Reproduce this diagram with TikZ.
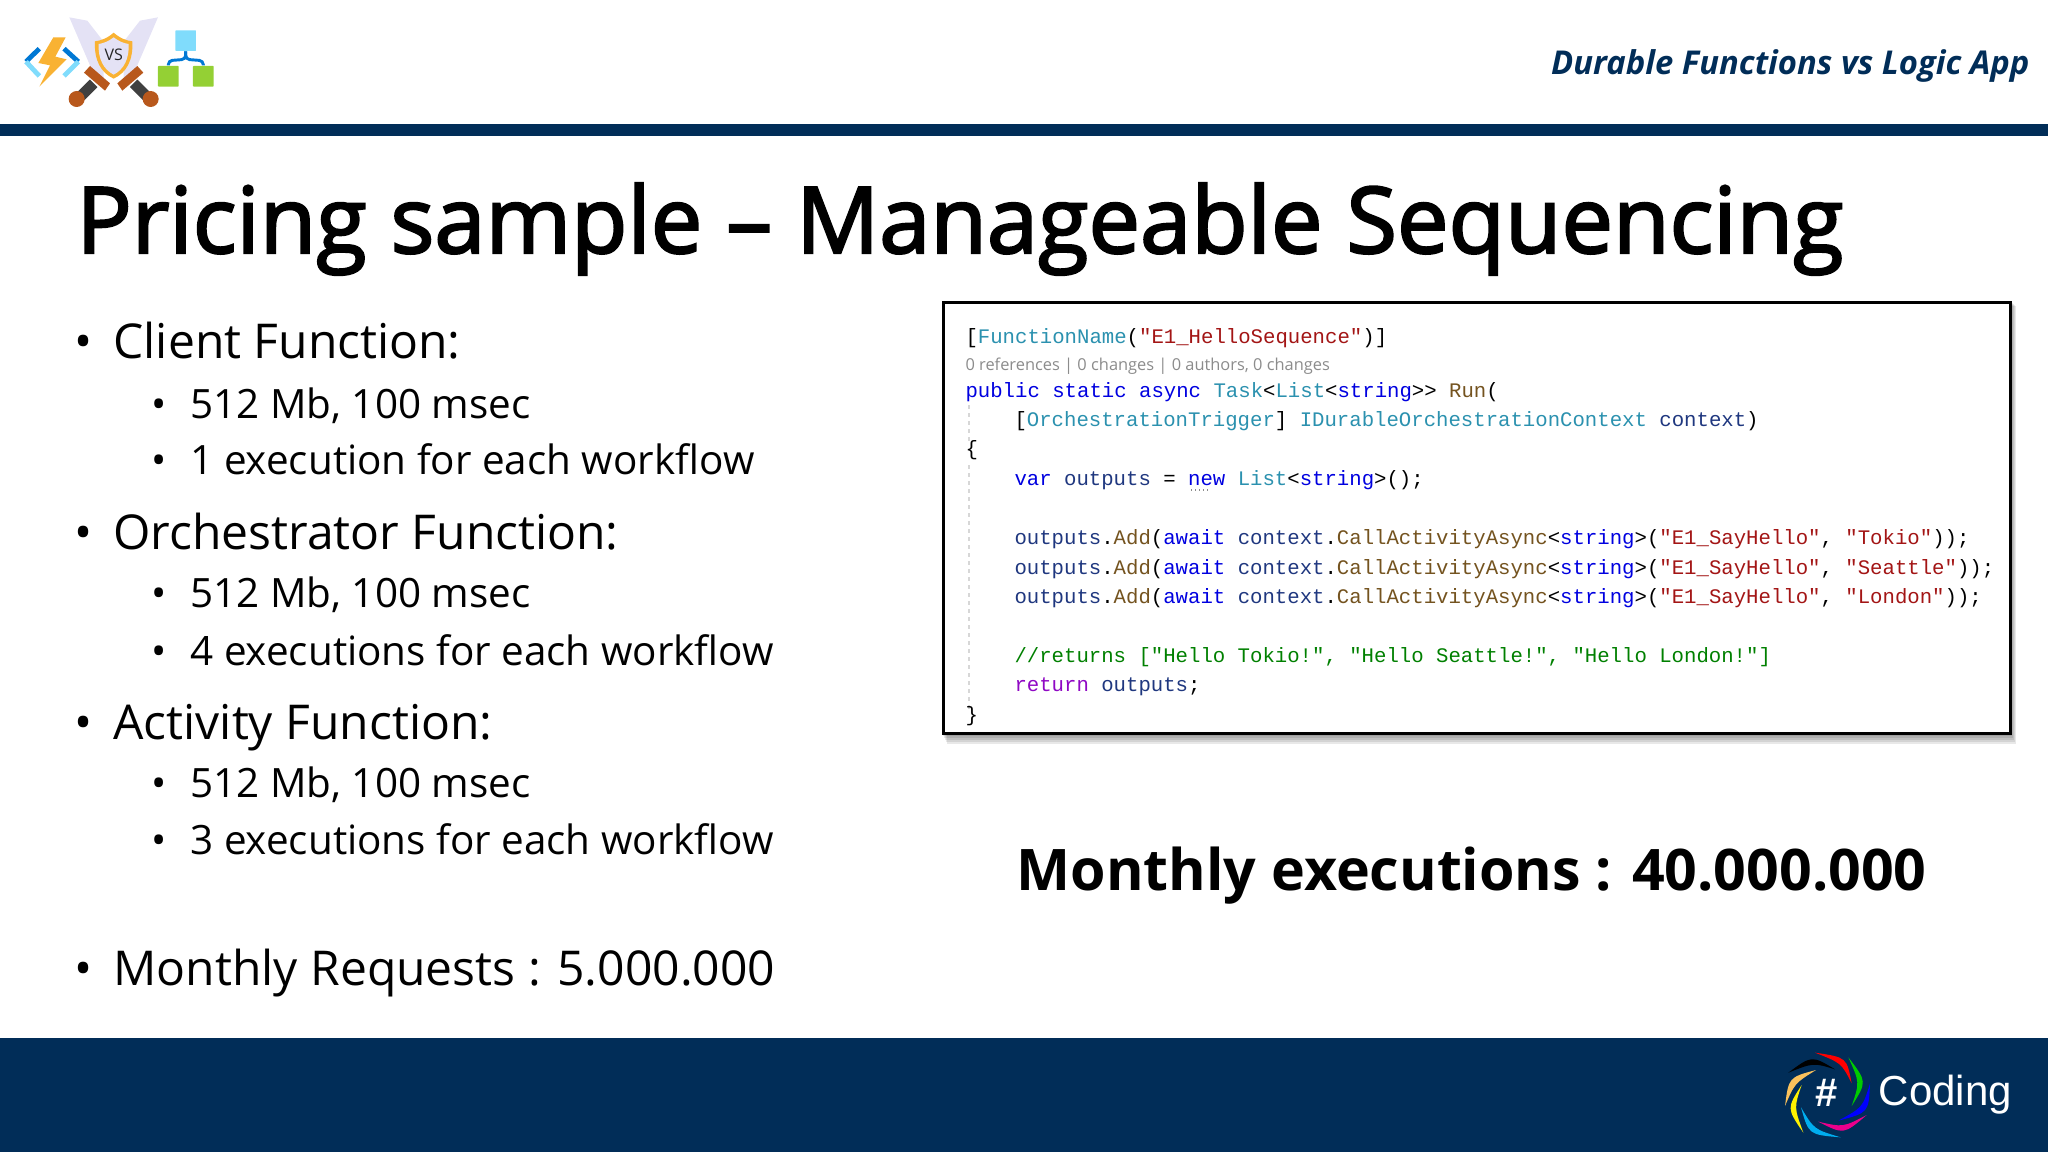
\documentclass[tikz,border=0pt]{standalone}
\usepackage{fontspec}
\setmainfont{Open Sans}
\setmonofont{Liberation Mono}
\newfontfamily\titlefont[FakeBold=2.4]{Open Sans}
\newfontfamily\logofont{Liberation Sans}

\definecolor{navybar}{RGB}{1,45,88}
\definecolor{kwblue}{RGB}{0,0,224}
\definecolor{typeteal}{RGB}{43,145,175}
\definecolor{strred}{RGB}{163,21,21}
\definecolor{methbrown}{RGB}{116,83,31}
\definecolor{varnavy}{RGB}{31,55,127}
\definecolor{cmtgreen}{RGB}{0,128,0}
\definecolor{ctlpurple}{RGB}{143,8,196}
\definecolor{lensgray}{RGB}{140,140,140}
\definecolor{guidegray}{RGB}{215,215,215}
\definecolor{bladelav}{RGB}{228,226,245}
\definecolor{shieldgold}{RGB}{249,178,51}
\definecolor{hiltbrown}{RGB}{184,88,28}
\definecolor{leafgreen}{RGB}{148,208,52}
\definecolor{rootblue}{RGB}{128,220,252}
\definecolor{linkblue}{RGB}{0,120,212}

\newcommand{\kw}[1]{\textcolor{kwblue}{#1}}
\newcommand{\ty}[1]{\textcolor{typeteal}{#1}}
\newcommand{\st}[1]{\textcolor{strred}{#1}}
\newcommand{\me}[1]{\textcolor{methbrown}{#1}}
\newcommand{\va}[1]{\textcolor{varnavy}{#1}}
\newcommand{\addline}[1]{\va{outputs}.\me{Add}(\kw{await}~\va{context}.\me{CallActivityAsync}<\kw{string}>(\st{"E1\_SayHello"},~\st{"#1"}));}
\newcommand{\swirl}[5]{\fill [#1] (#2) .. controls (#4) .. (#3) .. controls (#5) .. (#2) -- cycle;}

\tikzset{every picture/.style={line width=0.75pt}}
\tikzset{
  txt/.style={anchor=base west,inner sep=0pt},
  titletxt/.style={txt,font=\titlefont\fontsize{69}{78}\selectfont},
  lvlone/.style={txt,font=\fontsize{36}{42}\selectfont},
  lvltwo/.style={txt,font=\fontsize{30.3}{36}\selectfont},
  codeline/.style={txt,font=\ttfamily\fontsize{15.5}{18}\selectfont},
  guide/.style={guidegray,dashed,line width=1pt},
}

\begin{document}
\begin{tikzpicture}[x=0.75pt,y=0.75pt,yscale=-1,xscale=1]
\useasboundingbox (0,0) rectangle (2048,1152);

% Bars
\fill [navybar] (0,124) rectangle (2048,136);
\fill [navybar] (0,1038) rectangle (2048,1152);

% Logo: function icon
\begin{scope}[scale=1/3]
\draw [linkblue,line width=3.6pt] (118,146) -- (78,185);
\draw [rootblue,line width=3.6pt] (78,185) -- (118,228);
\draw [linkblue,line width=3.6pt] (192,146) -- (235,185);
\draw [rootblue,line width=3.6pt] (235,185) -- (192,228);
\fill [shieldgold] (160,112) -- (197,112) -- (166,170) -- (200,178) -- (118,260) -- (150,196) -- (115,189) -- cycle;
% Logo: crossed swords
\foreach \side in {1,-1}{
\begin{scope}[shift={(341,0)},xscale=\side]
\fill [bladelav] (-133,52) -- (-79,62) -- (-30,125) -- (-30,240) -- (-65,210) -- cycle;
\draw [black!75,line width=8pt] (-60,250) -- (-100,290);
\fill [hiltbrown] (-71,198) -- (-11,250) -- (-26,272) -- (-89,218) -- cycle;
\fill [hiltbrown] (-111,297) circle (24);
\end{scope}
}
\fill [shieldgold] (341,98) .. controls (360,115) and (380,122) .. (397,124) .. controls (400,180) and (380,218) .. (341,236) .. controls (302,218) and (282,180) .. (285,124) .. controls (302,122) and (322,115) .. (341,98) -- cycle;
\fill [bladelav] (341,112) .. controls (356,124) and (372,130) .. (386,132) .. controls (388,176) and (372,208) .. (341,224) .. controls (310,208) and (294,176) .. (296,132) .. controls (310,130) and (326,124) .. (341,112) -- cycle;
\node (versus) at (341,165) [inner sep=0pt,text=black!85,font=\fontsize{12}{13}\selectfont] {VS};
% Logo: hierarchy icon
\node (rootbox) at (557,122) [fill=rootblue,minimum size=15.5pt,inner sep=0pt,rounded corners=0.5pt] {};
\node (leafl) at (505,229) [fill=leafgreen,minimum size=15.5pt,inner sep=0pt,rounded corners=0.5pt] {};
\node (leafr) at (610,229) [fill=leafgreen,minimum size=15.5pt,inner sep=0pt,rounded corners=0.5pt] {};
\draw [linkblue,line width=2.2pt,rounded corners=3pt] (rootbox.south) -- (557,178) -- (505,182) -- (leafl.north);
\draw [linkblue,line width=2.2pt,rounded corners=3pt] (rootbox.south) -- (557,178) -- (610,182) -- (leafr.north);
\end{scope}

% Text Node
\node (header) at (2030,75) [anchor=base east,inner sep=0pt,text=navybar,font=\bfseries\itshape\fontsize{24.6}{28}\selectfont] {Durable Functions vs Logic App};
% Text Node
\node (pagetitle) at (76,253) [titletxt] {Pricing sample – Manageable Sequencing};

% Bullets
\foreach \y/\n in {358/a,549/b,739/c,985/d}{
\node (dotone\n) at (84,\y) [anchor=base,inner sep=0pt,font=\fontsize{36}{42}\selectfont] {•};
}
\foreach \y/\n in {418/a,474/b,607/c,665/d,797/e,854/f}{
\node (dottwo\n) at (159,\y) [anchor=base,inner sep=0pt,font=\fontsize{30.3}{36}\selectfont] {•};
}
% Text Node
\node (client) at (113,358) [lvlone] {Client Function:};
\node (clientmem) at (190,418) [lvltwo] {512 Mb, 100 msec};
\node (clientrun) at (190,474) [lvltwo] {1 execution for each workflow};
\node (orch) at (113,549) [lvlone] {Orchestrator Function:};
\node (orchmem) at (190,607) [lvltwo] {512 Mb, 100 msec};
\node (orchrun) at (190,665) [lvltwo] {4 executions for each workflow};
\node (activity) at (113,739) [lvlone] {Activity Function:};
\node (activitymem) at (190,797) [lvltwo] {512 Mb, 100 msec};
\node (activityrun) at (190,854) [lvltwo] {3 executions for each workflow};
\node (requests) at (113,985) [lvlone] {Monthly Requests : 5.000.000};

% Code box shadow
\foreach \d in {2,4,6,8,10}{
\fill [black,opacity=0.09] (942+\d/2,301+\d/2) rectangle (2011+\d/2,734+\d);
}
\node (codebox) at (942,301) [anchor=north west,draw=black,fill=white,line width=2.6pt,minimum width=800pt,minimum height=323pt,inner sep=0pt] {};

% Indent guides
\draw [guide] (969,405) -- (969,442);
\draw [guide] (969,465) -- (969,712);
\draw [lensgray,dotted,line width=1pt] (1191,490) -- (1209,490);

% Code Lines
\node (codea) at (965,343) [codeline] {[\ty{FunctionName}(\st{"E1\_HelloSequence"})]};
\node (codeb) at (965,370) [txt,text=lensgray,font=\fontsize{12.3}{15}\selectfont] {0 references | 0 changes | 0 authors, 0 changes};
\node (codec) at (965,397) [codeline] {\kw{public}~\kw{static}~\kw{async}~\ty{Task}<\ty{List}<\kw{string}>>~\me{Run}(};
\node (coded) at (1014,426) [codeline] {[\ty{OrchestrationTrigger}]~\ty{IDurableOrchestrationContext}~\va{context})};
\node (codee) at (965,455) [codeline] {\{};
\node (codef) at (1014,485) [codeline] {\kw{var}~\va{outputs}~=~\kw{new}~\ty{List}<\kw{string}>();};
\node (codeg) at (1014,544) [codeline] {\addline{Tokio}};
\node (codeh) at (1014,574) [codeline] {\addline{Seattle}};
\node (codei) at (1014,603) [codeline] {\addline{London}};
\node (codej) at (1014,662) [codeline,text=cmtgreen] {//returns~["Hello~Tokio!",~"Hello~Seattle!",~"Hello~London!"]};
\node (codek) at (1014,691) [codeline] {\textcolor{ctlpurple}{return}~\va{outputs};};
\node (codel) at (965,721) [codeline] {\}};

% Text Node
\node (monthly) at (1016,890) [txt,font=\bfseries\fontsize{43}{50}\selectfont] {Monthly executions : 40.000.000};

% Coding logo
\begin{scope}[shift={(1750,1030)},scale=1/3]
\swirl{red}{195,68}{305,160}{290,82}{274,99}
\swirl{green!80!black}{295,82}{305,228}{351,155}{329,157}
\swirl{blue}{360,160}{265,272}{356,248}{338,232}
\swirl{magenta}{350,255}{205,275}{281,314}{279,292}
\swirl{cyan}{272,322}{153,232}{176,314}{192,298}
\swirl{yellow}{160,308}{155,165}{110,235}{132,232}
\swirl{shieldgold!80!white}{105,228}{198,120}{116,142}{134,160}
\swirl{black}{115,128}{255,118}{185,76}{190,98}
\node (hash) at (230,190) [inner sep=0pt,text=white,font=\logofont\bfseries\fontsize{30}{34}\selectfont] {\#};
\node (coding) at (385,225) [txt,text=white,font=\logofont\fontsize{31.5}{36}\selectfont] {Coding};
\end{scope}

\end{tikzpicture}
\end{document}
